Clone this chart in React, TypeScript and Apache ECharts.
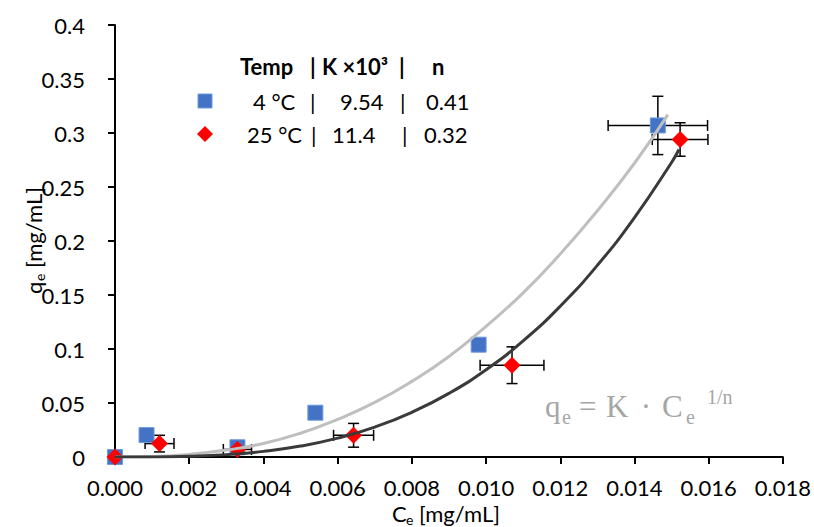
import React, { useEffect, useRef } from "react";
import * as echarts from "echarts";

// Measured points [Ce, qe]
const blueX = [0, 0.00085, 0.0033, 0.0054, 0.0098, 0.01463];
const blueY = [0, 0.0203, 0.009, 0.041, 0.104, 0.307];
const blueXErr = [0, 0, 0, 0, 0, 0.00134];
const blueYErr = [0, 0, 0, 0, 0, 0.027];

const redX = [0, 0.0012, 0.0033, 0.00643, 0.0107, 0.01523];
const redY = [0, 0.0124, 0.007, 0.0201, 0.085, 0.294];
const redXErr = [0, 0.00039, 0.00038, 0.00054, 0.00086, 0.00075];
const redYErr = [0, 0.0077, 0.004, 0.011, 0.017, 0.0155];

// Fit curves
const fit4X = [0, 0.001, 0.002, 0.003, 0.004, 0.005, 0.006, 0.007, 0.008, 0.009, 0.01, 0.011, 0.012, 0.013, 0.014, 0.0149];
const fit4Y = [0, 0.0004, 0.0024, 0.0064, 0.0125, 0.022, 0.0348, 0.0505, 0.07, 0.093, 0.121, 0.152, 0.188, 0.228, 0.272, 0.317];
const fit25X = [0, 0.001, 0.002, 0.003, 0.004, 0.005, 0.006, 0.007, 0.008, 0.009, 0.01, 0.011, 0.012, 0.013, 0.014, 0.015, 0.0152];
const fit25Y = [0, 0.0001, 0.0007, 0.0022, 0.0052, 0.0101, 0.0175, 0.0277, 0.0414, 0.0589, 0.0808, 0.1075, 0.1396, 0.1775, 0.2217, 0.2727, 0.2847];

const xTicks = { min: 0, max: 0.018, interval: 0.002 };
const yTicks = { min: 0, max: 0.4, interval: 0.05 };

const FONT = "Lato";

export default function App() {
  const ref = useRef<HTMLDivElement>(null);
  useEffect(() => {
    if (!ref.current) return;
    const chart = echarts.init(ref.current, undefined, { renderer: "svg" });

    const errData = (xs: number[], ys: number[], ex: number[], ey: number[]) =>
      xs.map((x, i) => [x, ys[i], ex[i], ey[i]]);

    const errRender = (params: any, api: any) => {
      const x = api.value(0), y = api.value(1), ex = api.value(2), ey = api.value(3);
      const children: any[] = [];
      const st = { stroke: "#000", lineWidth: 1.5 };
      const cap = 5.5;
      if (ex > 0) {
        const l = api.coord([x - ex, y]);
        const r = api.coord([x + ex, y]);
        children.push({ type: "line", shape: { x1: l[0], y1: l[1], x2: r[0], y2: r[1] }, style: st });
        children.push({ type: "line", shape: { x1: l[0], y1: l[1] - cap, x2: l[0], y2: l[1] + cap }, style: st });
        children.push({ type: "line", shape: { x1: r[0], y1: r[1] - cap, x2: r[0], y2: r[1] + cap }, style: st });
      }
      if (ey > 0) {
        const t = api.coord([x, y + ey]);
        const b = api.coord([x, y - ey]);
        children.push({ type: "line", shape: { x1: t[0], y1: t[1], x2: b[0], y2: b[1] }, style: st });
        children.push({ type: "line", shape: { x1: t[0] - cap, y1: t[1], x2: t[0] + cap, y2: t[1] }, style: st });
        children.push({ type: "line", shape: { x1: b[0] - cap, y1: b[1], x2: b[0] + cap, y2: b[1] }, style: st });
      }
      return { type: "group", children };
    };

    const txt = (x: number, y: number, text: string, opts: any = {}) => ({
      type: "text",
      x,
      y,
      style: {
        text,
        fontFamily: FONT,
        fontSize: 22,
        fill: "#000",
        verticalAlign: "middle",
        align: "left",
        ...opts,
      },
    });
    const serif = "'Liberation Serif', 'DejaVu Serif', serif";
    const eq = (x: number, y: number, text: string, size: number, align = "left") =>
      txt(x, y, text, { fontFamily: serif, fontSize: size, fill: "#a6a6a6", align });

    chart.setOption({
      animation: false,
      backgroundColor: "#fff",
      grid: { left: 115, right: 27, top: 25, bottom: 70, containLabel: false },
      xAxis: {
        type: "value",
        min: xTicks.min,
        max: xTicks.max,
        interval: xTicks.interval,
        axisLine: { show: true, onZero: false, lineStyle: { color: "#000", width: 2 } },
        axisTick: { show: true, length: 7, lineStyle: { color: "#000", width: 2 } },
        splitLine: { show: false },
        axisLabel: {
          color: "#000",
          fontFamily: FONT,
          fontSize: 22,
          margin: 19,
          formatter: (v: number) => v.toFixed(3),
        },
      },
      yAxis: {
        type: "value",
        min: yTicks.min,
        max: yTicks.max,
        interval: yTicks.interval,
        axisLine: { show: true, onZero: false, lineStyle: { color: "#000", width: 2 } },
        axisTick: { show: true, length: 7, lineStyle: { color: "#000", width: 2 } },
        splitLine: { show: false },
        axisLabel: {
          color: "#000",
          fontFamily: FONT,
          fontSize: 22,
          margin: 30,
          formatter: (v: number) => String(parseFloat(v.toFixed(3))),
        },
      },
      series: [
        {
          type: "custom",
          name: "err4",
          renderItem: errRender,
          data: errData(blueX, blueY, blueXErr, blueYErr),
          encode: { x: 0, y: 1 },
          z: 1,
          silent: true,
        },
        {
          type: "custom",
          name: "err25",
          renderItem: errRender,
          data: errData(redX, redY, redXErr, redYErr),
          encode: { x: 0, y: 1 },
          z: 1,
          silent: true,
        },
        {
          type: "scatter",
          name: "4 °C",
          symbol: "rect",
          symbolSize: 15,
          data: blueX.map((x, i) => [x, blueY[i]]),
          itemStyle: { color: "#4472c4", borderColor: "#6c9be0", borderWidth: 1, opacity: 1 },
          z: 2,
        },
        {
          type: "scatter",
          name: "25 °C",
          symbol: "diamond",
          symbolSize: 17,
          data: redX.map((x, i) => [x, redY[i]]),
          itemStyle: { color: "#ff0000", opacity: 1 },
          z: 3,
        },
        {
          type: "line",
          name: "fit 4 °C",
          data: fit4X.map((x, i) => [x, fit4Y[i]]),
          smooth: true,
          showSymbol: false,
          lineStyle: { color: "#bfbfbf", width: 3 },
          z: 4,
        },
        {
          type: "line",
          name: "fit 25 °C",
          data: fit25X.map((x, i) => [x, fit25Y[i]]),
          smooth: true,
          showSymbol: false,
          lineStyle: { color: "#3a3a3a", width: 3 },
          z: 4,
        },
      ],
      graphic: [
        // legend header
        txt(240, 66, "Temp", { fontWeight: "bold" }),
        txt(310, 66, "|", { fontWeight: "bold" }),
        txt(322, 66, "K ×10³", { fontWeight: "bold" }),
        txt(399, 66, "|", { fontWeight: "bold" }),
        txt(432, 66, "n", { fontWeight: "bold" }),
        // row 1
        { type: "rect", shape: { x: 198, y: 94, width: 14, height: 14 }, style: { fill: "#4472c4", stroke: "#6c9be0", lineWidth: 1 } },
        txt(253, 101, "4 °C"),
        txt(310, 101, "|"),
        txt(340, 101, "9.54"),
        txt(400, 101, "|"),
        txt(426, 101, "0.41"),
        // row 2
        { type: "polygon", shape: { points: [[205, 126], [213, 134], [205, 142], [197, 134]] }, style: { fill: "#ff0000" } },
        txt(247, 134, "25 °C"),
        txt(311, 134, "|"),
        txt(332, 134, "11.4"),
        txt(402, 134, "|"),
        txt(424, 134, "0.32"),
        // equation
        eq(545, 406, "q", 31),
        eq(562, 417, "e", 20),
        eq(579, 406, "=", 31),
        eq(606, 406, "K", 31),
        eq(646, 406, "·", 31, "center"),
        eq(662, 406, "C", 31),
        eq(686, 417, "e", 20),
        eq(707, 397, "1/n", 20),
        // x axis title
        txt(392, 513, "C"),
        txt(406, 519, "e", { fontSize: 14 }),
        txt(419, 513, "[mg/mL]"),
        // y axis title
        {
          type: "group",
          x: 33,
          y: 294,
          rotation: Math.PI / 2,
          children: [
            txt(0, 0, "q"),
            txt(13, 6, "e", { fontSize: 14 }),
            txt(26, 0, "[mg/mL]"),
          ],
        },
      ],
    });
    return () => chart.dispose();
  }, []);
  return <div ref={ref} style={{ width: 814, height: 527, position: "absolute", left: 0, top: 0 }} />;
}
